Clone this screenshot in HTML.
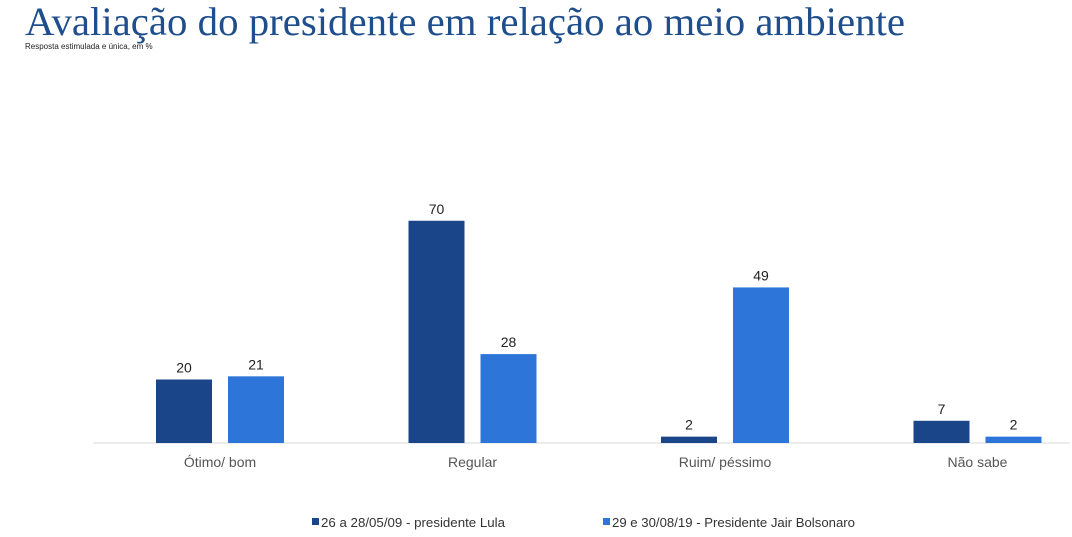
<!DOCTYPE html>
<html><head><meta charset="utf-8"><style>
body{margin:0;background:#fff;}
svg{display:block;font-family:"Liberation Sans",Arial,sans-serif;}
</style></head><body>
<svg id="chart" width="1072" height="537" viewBox="0 0 1072 537">
<text x="25" y="35" font-family="'Liberation Serif',serif" font-size="40" fill="#1f4e8c" textLength="880" lengthAdjust="spacingAndGlyphs">Avaliação do presidente em relação ao meio ambiente</text>
<text x="25" y="49" font-size="8" fill="#222">Resposta estimulada e única, em %</text>
<line x1="93" y1="443" x2="1070" y2="443" stroke="#d9d9d9" stroke-width="1"/>
<g id="bars"></g>
<g>
<rect x="312" y="518" width="7" height="7" fill="#1a4589"/>
<text x="321" y="527" font-size="13" fill="#333" textLength="184" lengthAdjust="spacingAndGlyphs">26 a 28/05/09 - presidente Lula</text>
<rect x="603" y="518" width="7" height="7" fill="#2e75d9"/>
<text x="612" y="527" font-size="13" fill="#333" textLength="243" lengthAdjust="spacingAndGlyphs">29 e 30/08/19 - Presidente Jair Bolsonaro</text>
</g>
</svg>
<script>
const categories=["Ótimo/ bom","Regular","Ruim/ péssimo","Não sabe"];
const lula=[20,70,2,7];
const bolsonaro=[21,28,49,2];
const seriesColors=["#1a4589","#2e75d9"];
const base=443, scale=3.175, x0=220, step=252.5, bw=56, gap=16;
const g=document.getElementById('bars');
const NS="http://www.w3.org/2000/svg";
function y(v){return base-v*scale;}
[lula,bolsonaro].forEach((s,si)=>{
  s.forEach((v,i)=>{
    const cx=x0+i*step;
    const x=si===0?cx-gap/2-bw:cx+gap/2;
    const r=document.createElementNS(NS,'rect');
    
    
    r.setAttribute('x',x);r.setAttribute('y',y(v));r.setAttribute('width',bw);r.setAttribute('height',v*scale);
    r.setAttribute('fill',seriesColors[si]);g.appendChild(r);
    const t=document.createElementNS(NS,'text');
    
    
    t.setAttribute('x',x+bw/2);t.setAttribute('y',y(v)-7);t.setAttribute('text-anchor','middle');
    t.setAttribute('font-size','14');t.setAttribute('fill','#222');t.textContent=v;g.appendChild(t);
  });
});
categories.forEach((c,i)=>{
  const t=document.createElementNS(NS,'text');
  
  
  t.setAttribute('x',x0+i*step);t.setAttribute('y',467);t.setAttribute('text-anchor','middle');
  t.setAttribute('font-size','14');t.setAttribute('fill','#555');t.textContent=c;g.appendChild(t);
});
</script>
</body></html>
